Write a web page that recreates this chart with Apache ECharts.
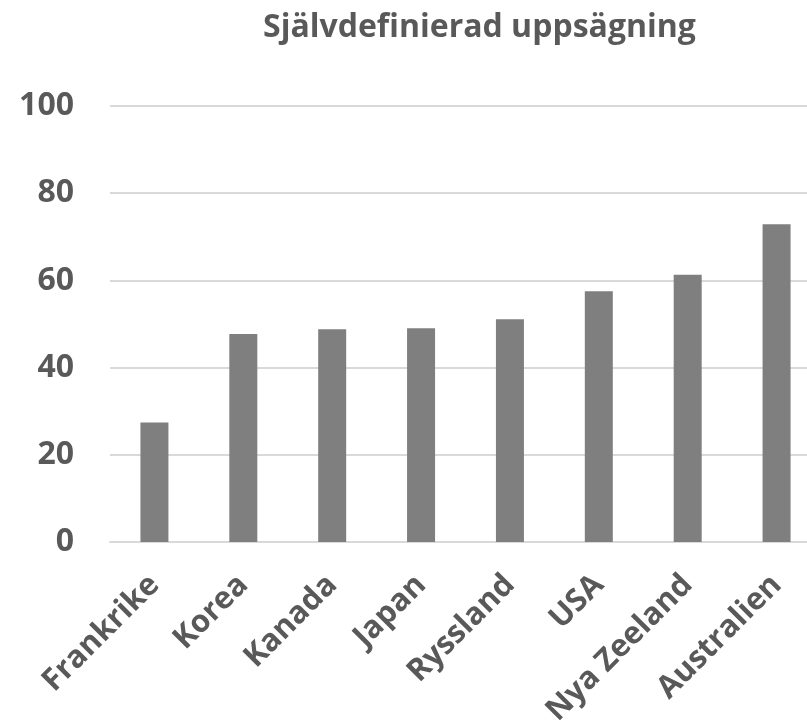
<!DOCTYPE html>
<html>
<head>
<meta charset="utf-8">
<script src="https://cdn.jsdelivr.net/npm/echarts@6/dist/echarts.min.js"></script>
<style>html,body{margin:0;padding:0;background:#fff}#c{width:807px;height:727px}</style>
</head>
<body>
<div id="c"></div>
<script>
const titleText = 'Självdefinierad uppsägning';
const categories = ['Frankrike', 'Korea', 'Kanada', 'Japan', 'Ryssland', 'USA', 'Nya Zeeland', 'Australien'];
const values = [27.4, 47.7, 48.8, 49.0, 51.1, 57.5, 61.3, 72.9];
const yTicks = [0, 20, 40, 60, 80, 100];

const FONT = '"Open Sans", sans-serif';
const chart = echarts.init(document.getElementById('c'), null, {renderer: 'canvas'});
chart.setOption({
  animation: false,
  backgroundColor: '#ffffff',
  title: {
    text: titleText,
    left: 258,
    top: 7,
    textStyle: {fontFamily: FONT, fontWeight: 'bold', fontSize: 32, color: '#595959'}
  },
  grid: {left: 110, right: -14, top: 106, bottom: 185, containLabel: false, outerBoundsMode: 'none'},
  xAxis: {
    type: 'category',
    data: categories,
    axisLine: {show: true, lineStyle: {color: '#d9d9d9', width: 2}},
    axisTick: {show: false},
    axisLabel: {
      interval: 0, rotate: 45, margin: 38,
      fontFamily: FONT, fontWeight: 'bold', fontSize: 31, color: '#595959'
    }
  },
  yAxis: {
    type: 'value',
    min: yTicks[0], max: yTicks[yTicks.length - 1], interval: 20,
    axisLine: {show: false},
    axisTick: {show: false},
    splitLine: {lineStyle: {color: '#d9d9d9', width: 2}},
    axisLabel: {margin: 36, fontFamily: FONT, fontWeight: 'bold', fontSize: 32, color: '#595959'}
  },
  series: [{
    type: 'bar',
    data: values,
    barWidth: 28,
    itemStyle: {color: '#7f7f7f'}
  }]
});
</script>
</body>
</html>
